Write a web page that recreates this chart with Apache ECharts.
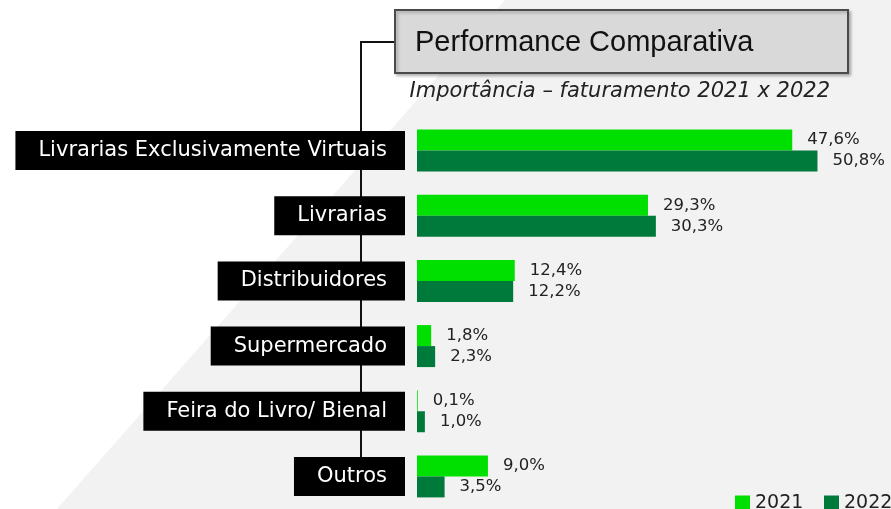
<!DOCTYPE html>
<html>
<head>
<meta charset="utf-8">
<script src="https://cdn.jsdelivr.net/npm/echarts@6/dist/echarts.min.js"></script>
<style>
  html, body { margin: 0; padding: 0; background: #fff; }
  #chart { width: 891px; height: 509px; }
</style>
</head>
<body>
<div id="chart"></div>
<script>
// canais de venda
const categories = [
  'Livrarias Exclusivamente Virtuais',
  'Livrarias',
  'Distribuidores',
  'Supermercado',
  'Feira do Livro/ Bienal',
  'Outros'
];
const values2021 = [47.6, 29.3, 12.4, 1.8, 0.1, 9.0];
const values2022 = [50.8, 30.3, 12.2, 2.3, 1.0, 3.5];
const seriesNames = ['2021', '2022'];
const colors = ['#00e000', '#007a3a'];

const fmt = p => p.value.toFixed(1).replace('.', ',') + '%';
const labelFont = 'DejaVu Sans';

const valueLabel = {
  show: true, position: 'right', distance: 15, formatter: fmt,
  fontSize: 16.5, color: '#222', fontFamily: labelFont
};

const legendBase = {
  top: 489, itemWidth: 15, itemHeight: 16, itemGap: 8, icon: 'rect',
  textStyle: { fontSize: 19, color: '#222', fontFamily: labelFont }
};

const chart = echarts.init(document.getElementById('chart'));
chart.setOption({
  backgroundColor: '#fff',
  animation: false,
  graphic: [
    {
      type: 'polygon', z: -10, silent: true,
      shape: { points: [[505, 0], [891, 0], [891, 509], [57, 509]] },
      style: { fill: '#f2f2f2' }
    },
    {
      type: 'polyline', z: -5, silent: true,
      shape: { points: [[395, 42], [361, 42], [361, 490]] },
      style: { stroke: '#111', lineWidth: 2, fill: null }
    },
    {
      type: 'rect', z: 10,
      shape: { x: 395, y: 10, width: 453, height: 63 },
      style: {
        fill: '#d9d9d9', stroke: '#4a4a4a', lineWidth: 2,
        shadowBlur: 3, shadowOffsetX: 2, shadowOffsetY: 2, shadowColor: 'rgba(0,0,0,0.25)'
      }
    },
    {
      type: 'text', z: 11, x: 415, y: 43,
      style: {
        text: 'Performance Comparativa', font: '29px "Liberation Sans"',
        fill: '#111', verticalAlign: 'middle'
      }
    },
    {
      type: 'text', z: 11, x: 830, y: 92,
      style: {
        text: 'Importância – faturamento 2021 x 2022', font: 'italic 21px "DejaVu Sans"',
        fill: '#222', align: 'right', verticalAlign: 'middle'
      }
    }
  ],
  color: colors,
  legend: [
    Object.assign({ data: [seriesNames[0]], left: 730 }, legendBase),
    Object.assign({ data: [seriesNames[1]], left: 819 }, legendBase)
  ],
  grid: { left: 417, top: 118, width: 473, height: 394 },
  xAxis: { type: 'value', min: 0, max: 60, show: false },
  yAxis: {
    type: 'category', inverse: true, data: categories,
    axisLine: { show: false }, axisTick: { show: false },
    axisLabel: {
      margin: 12, color: '#fff', backgroundColor: '#000',
      fontSize: 21, lineHeight: 21, fontFamily: labelFont,
      padding: [9, 18, 9, 23]
    }
  },
  series: [
    {
      name: seriesNames[0], type: 'bar', data: values2021,
      barWidth: 21, barGap: '0%',
      itemStyle: { color: colors[0] },
      label: valueLabel
    },
    {
      name: seriesNames[1], type: 'bar', data: values2022,
      barWidth: 21, barGap: '0%',
      itemStyle: { color: colors[1] },
      label: valueLabel
    }
  ]
});
</script>
</body>
</html>
